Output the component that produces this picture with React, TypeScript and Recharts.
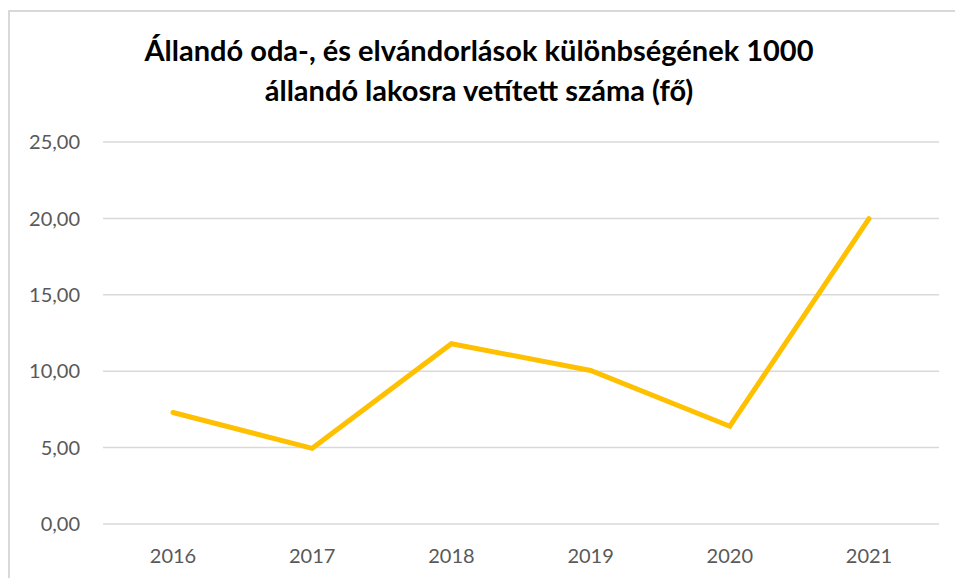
import { LineChart, Line, XAxis, YAxis, CartesianGrid } from "recharts";

const years = ["2016", "2017", "2018", "2019", "2020", "2021"];
const values = [7.3, 4.95, 11.8, 10.05, 6.4, 19.98];
const yTicks = [0, 5, 10, 15, 20, 25];
const titleLines = [
  "Állandó oda-, és elvándorlások különbségének 1000",
  "állandó lakosra vetített száma (fő)",
];

const data = years.map((year, i) => ({ year, value: values[i] }));

const fmt = (v: number) => v.toFixed(2).replace(".", ",");

export default function App() {
  return (
    <div style={{ position: "absolute", left: 0, top: 0, width: 955, height: 578, overflow: "hidden", background: "#fff" }}>
      <div
        style={{
          position: "absolute",
          left: 8,
          top: 10,
          width: 970,
          height: 600,
          border: "2px solid #d9d9d9",
          boxSizing: "border-box",
        }}
      />
      <div
        style={{
          position: "absolute",
          left: 0,
          top: 30,
          width: 958,
          textAlign: "center",
          fontFamily: "Lato, 'Open Sans', sans-serif",
          fontWeight: 700,
          fontSize: 29,
          lineHeight: "40px",
          color: "#000",
        }}
      >
        {titleLines.map((t) => (
          <div key={t}>{t}</div>
        ))}
      </div>
      <div style={{ position: "absolute", left: 0, top: 0 }}>
        <LineChart width={955} height={578} data={data} margin={{ top: 142, right: 16, bottom: 24, left: 0 }}>
          <CartesianGrid vertical={false} stroke="#d9d9d9" strokeWidth={1.5} />
          <XAxis
            dataKey="year"
            axisLine={false}
            tickLine={false}
            height={30}
            tickMargin={19}
            padding={{ left: 70, right: 70 }}
            tick={{ fill: "#595959", fontSize: 20, fontFamily: "Lato, 'Open Sans', sans-serif" }}
          />
          <YAxis
            domain={[0, 25]}
            ticks={yTicks}
            width={103}
            axisLine={false}
            tickLine={false}
            tickMargin={17}
            tickFormatter={fmt}
            tick={{ fill: "#595959", fontSize: 20, fontFamily: "Lato, 'Open Sans', sans-serif" }}
          />
          <Line
            type="linear"
            dataKey="value"
            stroke="#FFC000"
            strokeWidth={5}
            dot={false}
            strokeLinecap="round"
            isAnimationActive={false}
          />
        </LineChart>
      </div>
    </div>
  );
}
